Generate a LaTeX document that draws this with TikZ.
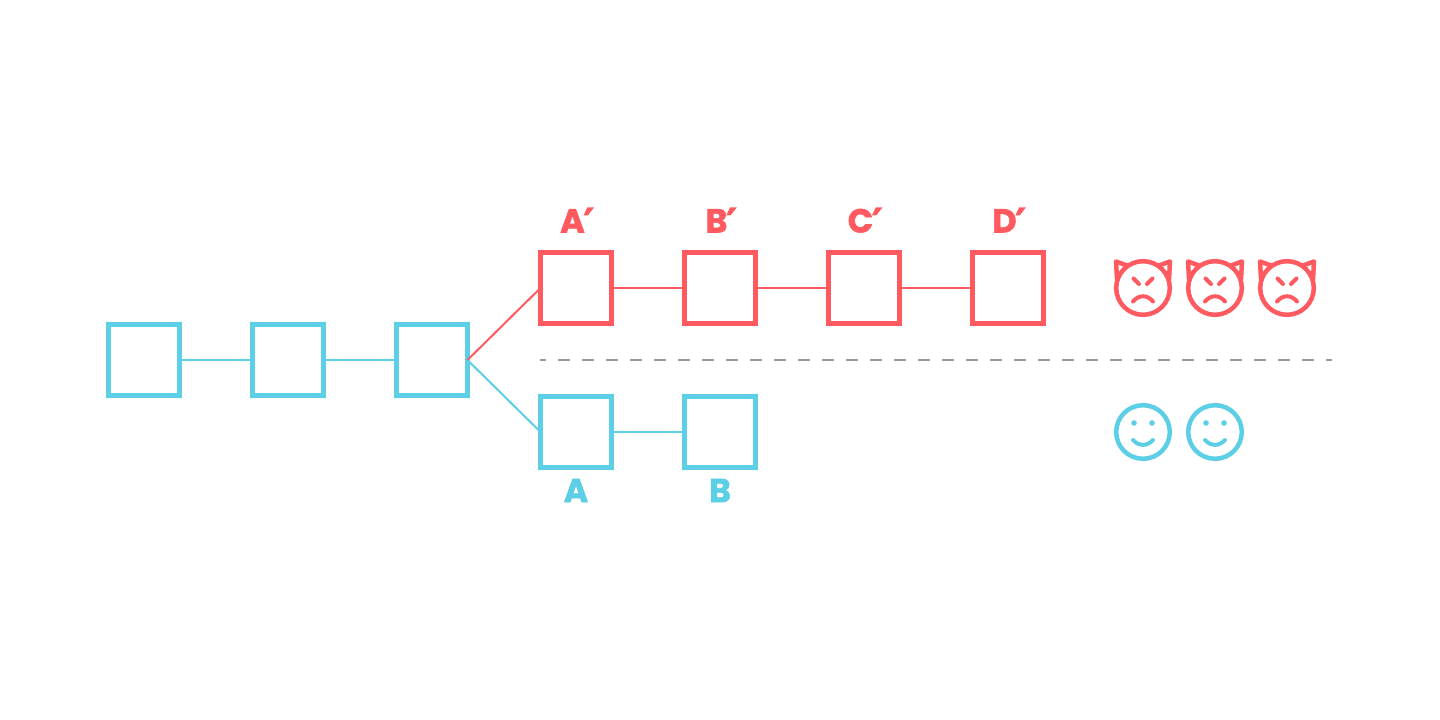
\documentclass[tikz,border=0pt]{standalone}
\usepackage{fontspec}
\setmainfont{Poppins}[BoldFeatures={FakeBold=1.6}]
\newfontfamily\primefont{DejaVu Sans}[BoldFeatures={FakeBold=3.5}]
\usetikzlibrary{positioning}
\definecolor{honest}{HTML}{5CCFE6}
\definecolor{attack}{HTML}{FF5A5F}
\definecolor{divider}{HTML}{999999}
\newcommand{\prm}{\kern-0.5pt\raisebox{-1.4pt}{\primefont\fontsize{21}{21}\selectfont\bfseries ′}\kern-1pt}
\tikzset{
  block/.style={draw=#1, line width=0.1cm, minimum size=1.42cm, inner sep=0pt, outer sep=0pt},
  link/.style={draw=#1, line width=0.04cm},
  tag/.style={text=#1, font=\fontsize{19}{19}\selectfont\bfseries, inner sep=0pt},
  pics/calmface/.style={code={
    \draw[#1, line width=0.09cm] (0,0) circle (26.8);
    \fill[#1] (-9,9) circle (2.8) (9,9) circle (2.8);
    \draw[#1, line width=0.08cm, line cap=round] (-10,-8) .. controls (-4,-14.5) and (4,-14.5) .. (10,-8);
  }},
  pics/devilface/.style={code={
    \draw[#1, line width=0.09cm] (0,0) circle (26.8);
    \draw[#1, line width=0.09cm, line join=round, line cap=round] (-16,22.5) -- (-27,26.5) -- (-26,9);
    \draw[#1, line width=0.09cm, line join=round, line cap=round] (16,22.5) -- (27,26.5) -- (26,9);
    \draw[#1, line width=0.08cm, line cap=round] (-9.5,9.5) -- (-4,4) (9.5,9.5) -- (4,4);
    \draw[#1, line width=0.08cm, line cap=round] (-10,-13.5) .. controls (-4,-6.5) and (4,-6.5) .. (10,-13.5);
  }}
}
\begin{document}
\begin{tikzpicture}[x=0.02cm, y=0.02cm]
\useasboundingbox (0,-360) rectangle (1440,360);
% shared chain
\foreach \n/\x in {s1/144,s2/288,s3/432} \node[block=honest] (\n) at (\x,0) {};
\draw[link=honest] (s1) -- (s2);
\draw[link=honest] (s2) -- (s3);
% lower fork
\node[block=honest] (lowa) at (576,-72) {};
\node[block=honest] (lowb) at (720,-72) {};
\node[tag=honest, below=0.46cm of lowa, anchor=center] (laba) {A};
\node[tag=honest, below=0.46cm of lowb, anchor=center] (labb) {B};
\draw[link=honest] (s3.east) -- (lowa.west);
\draw[link=honest] (lowa) -- (lowb);
% upper fork
\foreach \n/\x in {a/576,b/720,c/864,d/1008} \node[block=attack] (up\n) at (\x,72) {};
\foreach \n/\t in {a/A,b/B,c/C,d/D} \node[tag=attack, above=0.62cm of up\n, anchor=center] (lab\n up) {\t\prm};
\draw[link=attack] (s3.east) -- (upa.west);
\draw[link=attack] (upa) -- (upb);
\draw[link=attack] (upb) -- (upc);
\draw[link=attack] (upc) -- (upd);
% divider
\coordinate (dl) at (540,0);
\coordinate (dr) at (1332,0);
\draw[divider, line width=0.04cm, dash pattern=on 0.24cm off 0.24cm, dash phase=0.12cm] (dl) -- (dr);
% faces
\foreach \x in {1143,1215,1287} \pic at (\x,72) {devilface=attack};
\foreach \x in {1143,1215} \pic at (\x,-72) {calmface=honest};
\end{tikzpicture}
\end{document}
